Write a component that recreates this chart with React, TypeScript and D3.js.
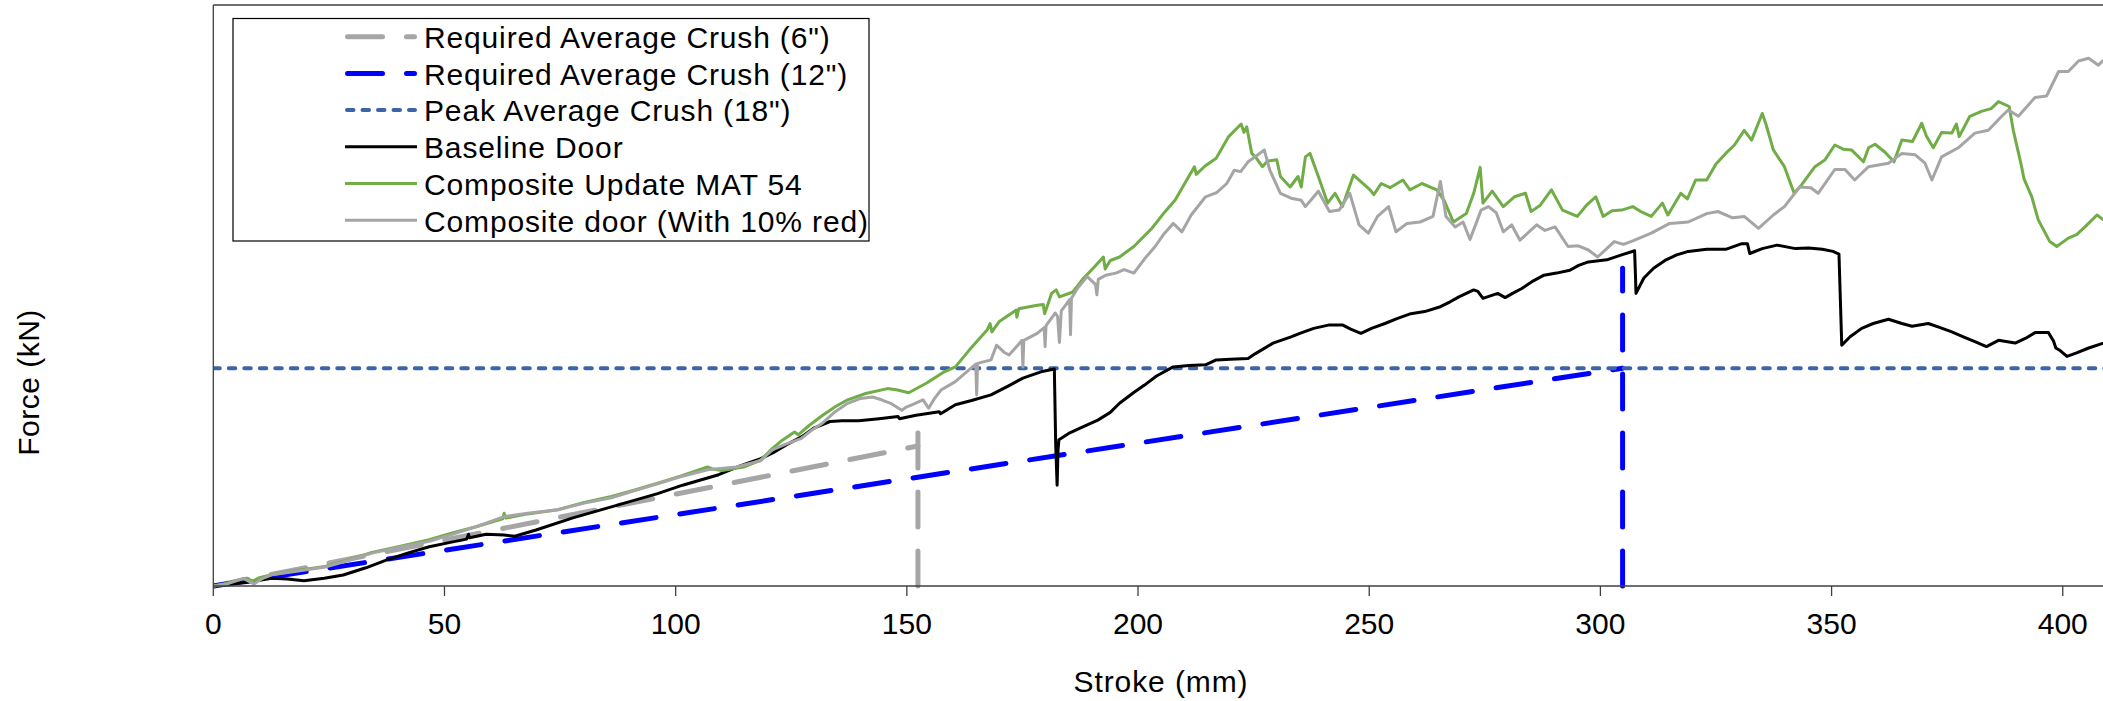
import React from "react";
import { scaleLinear, line } from "d3";

type Pt = [number, number]; // [stroke mm, force kN]

// ---- data ----
const xTicks = [0, 50, 100, 150, 200, 250, 300, 350, 400];

const crush6Slope: Pt[] = [[0, 0], [152.4, 20.0]];
const crush6Drop: Pt[] = [[152.4, 0], [152.4, 22.0]];
const crush12Slope: Pt[] = [[0, 0], [304.8, 31.1]];
const crush12Drop: Pt[] = [[304.8, 0], [304.8, 45.4]];
const peakCrush: Pt[] = [[0, 31.1], [410, 31.1]];

const baselineDoor: Pt[] = [
  [0, 0], [7.2, 0.5], [12.6, 1.1], [16, 1.0], [19.6, 0.76], [24, 1.1], [28.1, 1.57], [33, 2.6],
  [37.4, 3.7], [42, 4.7], [46.7, 5.6], [51, 6.2], [54.8, 6.7], [55.2, 7.4], [55.4, 6.9], [59, 7.4],
  [62.9, 7.3], [65.2, 7.1], [69.8, 8.0], [77.6, 9.7], [86.1, 11.3], [96.1, 13.2], [101.5, 14.4],
  [109.3, 15.9], [114.1, 17.2], [118.4, 18.2], [121.0, 19.0], [124, 20.2], [127.2, 21.3], [130, 22.6],
  [133.4, 23.5], [136, 23.6], [139.6, 23.6], [144, 23.9], [148.1, 24.2], [148.4, 23.9], [152, 24.4],
  [157.0, 24.9], [157.3, 24.6], [160.5, 25.9], [164, 26.5], [168.2, 27.3], [172, 28.6], [175.1, 29.7],
  [179.0, 30.6], [181.9, 31.0], [182.2, 20], [182.5, 14.4], [182.7, 19.5], [182.9, 20.9], [185, 21.8],
  [188.3, 22.8], [191.3, 23.7], [194, 24.8], [196.0, 26.1], [199, 27.6], [201.4, 28.7], [204, 30.0],
  [207.6, 31.3], [211, 31.5], [214.6, 31.6], [216.9, 32.3], [220, 32.4], [223.8, 32.5], [225.4, 33.2],
  [229.2, 34.7], [233.1, 35.6], [235.0, 36.1], [238, 36.8], [241.4, 37.3], [244.2, 37.3], [246, 36.7],
  [248.2, 36.1], [250.5, 36.8], [253.4, 37.5], [256, 38.2], [259.0, 38.9], [262, 39.2], [265.4, 39.9],
  [267.5, 40.6], [269.4, 41.3], [272.6, 42.3], [273.5, 42.1], [274.6, 41.1], [277.8, 41.8], [279.4, 41.2],
  [281, 41.8], [283.0, 42.5], [285.5, 43.6], [287.8, 44.4], [290.5, 44.7], [293.4, 45.1], [295.3, 45.8],
  [297.4, 46.3], [301.4, 46.6], [304.6, 47.3], [307.4, 47.9], [307.6, 44], [307.7, 41.8], [309.4, 44.0],
  [311.5, 45.4], [314.2, 46.6], [316.5, 47.3], [319.0, 47.8], [323, 48.1], [327.1, 48.1], [330.6, 48.9],
  [331.8, 48.9], [332.3, 47.5], [335.0, 48.2], [338.2, 48.7], [342.2, 48.2], [345, 48.3], [348, 48.1],
  [350.3, 47.8], [351.6, 47.4], [352.2, 34.4], [354, 35.6], [356.5, 36.8], [359, 37.5], [362.3, 38.1],
  [365.2, 37.5], [367.4, 37.1], [370.9, 37.5], [373.5, 36.9], [376.0, 36.3], [378.5, 35.6], [381.0, 34.9],
  [383.5, 34.2], [386.1, 35.1], [389.7, 34.7], [392, 35.4], [394.0, 36.2], [396.9, 36.2], [398.0, 35.0],
  [398.5, 34.0], [399.5, 33.6], [400.9, 32.8], [403, 33.3], [405.6, 34.0], [408.8, 34.7], [410, 35.0],
];

const compositeMat54: Pt[] = [
  [0, 0], [3, 0.4], [5, 0.8], [7.2, 1.1], [8.5, 0.7], [10, 1.2], [12.6, 1.6], [18, 2.2], [24.2, 2.8],
  [29, 3.7], [34.3, 4.8], [40, 5.6], [46.7, 6.6], [51.3, 7.5], [57, 8.5], [62.6, 9.6], [62.9, 10.4],
  [63.3, 9.7], [68, 10.3], [74.5, 10.9], [80, 11.9], [86.1, 12.8], [91, 13.7], [96.1, 14.7], [101, 15.7],
  [106.9, 17.0], [108, 16.7], [110, 16.5], [114.7, 17.0], [118.4, 18.0], [121.0, 19.7], [123, 20.8],
  [125.7, 22.0], [126.5, 21.6], [129, 23.0], [131.8, 24.4], [134.5, 25.6], [137.2, 26.6], [141.1, 27.5],
  [145.8, 28.2], [148, 28.0], [150.4, 27.6], [154.3, 29.0], [158.1, 30.6], [160.5, 31.3], [163.5, 33.7],
  [167.4, 36.6], [168.0, 37.5], [168.4, 36.3], [170, 37.8], [173.6, 39.4], [173.8, 38.4], [174.2, 39.6],
  [178.2, 40.1], [179.5, 40.2], [179.8, 38.9], [181.3, 41.8], [182.3, 42.3], [183, 41.3], [185.9, 42.0],
  [188, 43.8], [190.6, 45.6], [192.5, 47.0], [192.9, 45.3], [194, 46.5], [196.0, 47.0], [199.1, 48.5],
  [203.0, 51.1], [205.5, 53.2], [208.0, 55.1], [210, 57.4], [212.2, 59.9], [212.6, 58.8], [214.5, 60.0],
  [216.9, 61.1], [219.6, 64.2], [222.3, 66.0], [222.9, 64.8], [223.5, 65.6], [224.6, 61.8], [225.5, 61.2],
  [226.9, 59.9], [228, 60.7], [230.0, 60.9], [230.8, 58.5], [232.9, 57.0], [234.6, 58.5], [235.3, 57.0],
  [236.2, 61.3], [237.2, 61.8], [239.0, 58.5], [241.0, 54.7], [242.6, 56.1], [244.2, 54.2], [246.6, 58.7],
  [248.5, 57.6], [250.2, 56.6], [251, 55.9], [252.6, 57.5], [254.5, 56.9], [257.3, 58.0], [258.8, 56.6],
  [261.4, 57.5], [264.6, 56.6], [266.2, 55.1], [268.2, 52.0], [271.0, 53.2], [272.6, 56.1], [274.0, 59.8],
  [274.6, 54.7], [276.6, 56.4], [279.0, 54.2], [281.4, 55.6], [283.8, 56.1], [285.0, 53.5], [287, 54.4],
  [289.4, 56.6], [291.8, 53.7], [295.0, 52.8], [297, 54.4], [299.0, 55.6], [300.6, 52.8], [302.5, 53.6],
  [304.6, 53.7], [307.0, 54.2], [309, 53.4], [311.0, 52.8], [313.4, 54.7], [314.6, 53.0], [317.4, 56.1],
  [318.8, 55.3], [320.6, 58.0], [323.0, 58.0], [325, 60.3], [327.1, 61.8], [329, 63.0], [331.1, 65.1],
  [332.7, 63.7], [335.0, 67.5], [335.8, 66.0], [337.4, 62.3], [339.8, 59.9], [341.9, 56.1], [343.5, 57.3],
  [346.4, 59.9], [348.6, 60.9], [350.7, 63.0], [352.5, 62.4], [354.3, 62.3], [356.9, 60.6], [358.0, 62.6],
  [359.4, 63.1], [361.5, 62.0], [363.5, 60.6], [365.2, 63.7], [367.5, 63.5], [369.5, 66.1], [370.5, 64.3],
  [372.0, 62.6], [373.8, 64.8], [376, 64.7], [377.0, 66.0], [377.6, 64.2], [379.9, 67.1], [382.4, 67.8],
  [384.5, 68.2], [386.1, 69.2], [388.4, 68.5], [389.3, 65.1], [391.1, 59.9], [391.6, 58.2], [393.3, 55.6],
  [394.7, 52.3], [397.2, 49.2], [398.7, 48.5], [401.2, 49.7], [403, 50.2], [404.8, 51.3], [407.4, 53.0],
  [408.8, 52.3], [410, 52.6],
];

const compositeDoor: Pt[] = [
  [0, 0], [3, 0.3], [6.5, 1.1], [8.8, 0.3], [10.7, 1.1], [12.6, 1.6], [18, 2.1], [24.2, 2.7], [29, 3.6],
  [34.3, 4.7], [40, 5.5], [46.7, 6.4], [51.3, 7.3], [57, 8.5], [62.9, 9.9], [68, 10.4], [74.5, 10.9],
  [80, 11.8], [86.1, 12.6], [91, 13.6], [96.1, 14.6], [101, 15.6], [106.9, 16.6], [113.1, 17.0],
  [118.4, 17.9], [121.0, 19.5], [124, 20.3], [127.2, 21.1], [129.5, 22.3], [131.8, 23.3], [134.5, 24.9],
  [137.2, 26.1], [140, 26.8], [142.6, 27.0], [144.5, 26.6], [146.5, 26.1], [148.9, 25.1], [150, 25.6],
  [151.2, 25.9], [153.5, 26.6], [154.7, 25.4], [156, 26.8], [157.4, 28.0], [160.5, 29.2], [163.5, 30.9],
  [164.9, 31.7], [165.1, 27.3], [165.3, 31.8], [168.2, 32.3], [169.4, 34.4], [171, 33.4], [172.1, 33.0],
  [174, 34.4], [174.9, 35.1], [175.1, 31.3], [175.3, 35.1], [178.2, 36.1], [179.7, 36.9], [179.9, 34.2],
  [180.1, 37.2], [182.1, 39.0], [182.6, 38.5], [183, 34.8], [183.4, 39.3], [185.2, 40.9], [185.4, 35.9],
  [185.6, 41.1], [187, 42.6], [189.0, 44.2], [190.8, 43.1], [191.1, 41.6], [191.4, 43.8], [193, 44.4],
  [195.2, 44.7], [197, 45.2], [199.1, 44.7], [201.5, 46.8], [203.7, 48.5], [205.5, 50.2], [207.6, 51.8],
  [209.5, 50.6], [211.5, 53.0], [214.6, 55.6], [217, 56.2], [219.2, 57.5], [220.8, 59.4], [222.2, 59.2],
  [223.8, 60.6], [225.5, 61.4], [227.3, 62.3], [228.5, 59.4], [230.8, 56.1], [233.1, 55.4], [235.3, 55.1],
  [236.2, 54.2], [239.0, 56.4], [241.4, 53.5], [243.5, 53.7], [245.8, 56.1], [247.8, 51.6], [249.8, 50.4],
  [251.8, 52.8], [254.2, 54.2], [255.8, 50.6], [258.2, 51.8], [261, 52.0], [263.8, 52.8], [265.4, 57.8],
  [266.6, 52.8], [268.6, 51.3], [270.3, 52.0], [271.8, 49.5], [274.2, 53.7], [275.8, 54.2], [277.5, 53.3],
  [279.0, 50.6], [280.8, 51.6], [282.6, 49.4], [286.2, 51.6], [288, 50.8], [290.2, 51.3], [293.0, 48.5],
  [295.2, 48.6], [297.4, 48.0], [299.4, 47.0], [303.0, 49.2], [305, 48.8], [307.0, 49.3], [311.0, 50.4],
  [315.0, 51.8], [319.0, 52.0], [323.0, 53.2], [325.4, 53.5], [328.6, 52.6], [331.1, 52.8], [334.2, 51.1],
  [337.4, 53.0], [339.8, 54.2], [343.1, 57.0], [345.5, 56.9], [347.1, 56.1], [350.7, 59.5], [352.9, 59.5],
  [355.0, 58.0], [358.0, 59.9], [362.3, 60.4], [365.2, 61.8], [368.1, 61.6], [370.2, 60.4], [371.7, 58.0],
  [373.8, 61.3], [377.4, 62.6], [381.0, 64.7], [383.9, 65.1], [386.8, 67.1], [388.2, 68.0], [390.4, 67.1],
  [394.0, 69.8], [396.5, 70.0], [399.1, 73.5], [401.2, 73.5], [403.4, 75.0], [405.6, 75.4], [407.7, 74.4],
  [408.8, 75.1], [410, 75.3],
];

const legendLabels = [
  'Required Average Crush (6")',
  'Required Average Crush (12")',
  'Peak Average Crush (18")',
  "Baseline Door",
  "Composite Update MAT 54",
  "Composite door (With 10% red)",
];

// ---- styles ----
const longDash = { stroke: "#A6A6A6", width: 5, dash: "35 24", cap: "round" };
const blueDash = { stroke: "#0000FF", width: 5, dash: "35 24", cap: "round" };
const peakDash = { stroke: "#3C64A8", width: 4, dash: "6.5 9", cap: "round" };
const blackLine = { stroke: "#000000", width: 3, dash: undefined, cap: "butt" };
const greenLine = { stroke: "#70AD47", width: 3, dash: undefined, cap: "butt" };
const grayLine = { stroke: "#A5A5A5", width: 3, dash: undefined, cap: "butt" };
const legendStyles = [longDash, blueDash, peakDash, blackLine, greenLine, grayLine];

const W = 2103;
const H = 701;
const FONT = "'Liberation Sans', Arial, sans-serif";

const x = scaleLinear().domain([0, 410]).range([213.3, 2109]);
const y = scaleLinear().domain([0, 83]).range([586, 5]);
const path = line<Pt>().x((d) => x(d[0])).y((d) => y(d[1]));

function Series({ data, s }: { data: Pt[]; s: any }) {
  return (
    <path
      d={path(data) || ""}
      fill="none"
      stroke={s.stroke}
      strokeWidth={s.width}
      strokeDasharray={s.dash}
      strokeLinecap={s.cap}
      strokeLinejoin="round"
    />
  );
}

export default function App() {
  const [x0, x1] = x.range();
  const [yb, yt] = y.range();
  const legendY0 = 36.7;
  const legendStep = 36.7;

  return (
    <svg
      width={W}
      height={H}
      style={{ position: "absolute", left: 0, top: 0, background: "#fff" }}
      fontFamily={FONT}
    >
      <defs>
        <clipPath id="plot">
          <rect x={x0} y={yt} width={x1 - x0} height={yb - yt + 4} />
        </clipPath>
      </defs>

      <g clipPath="url(#plot)">
        <Series data={crush6Slope} s={longDash} />
        <Series data={crush6Drop} s={longDash} />
        <Series data={crush12Slope} s={blueDash} />
        <Series data={crush12Drop} s={blueDash} />
        <Series data={peakCrush} s={peakDash} />
        <Series data={baselineDoor} s={blackLine} />
        <Series data={compositeMat54} s={greenLine} />
        <Series data={compositeDoor} s={grayLine} />
      </g>

      {/* frame */}
      <line x1={x0} x2={W} y1={yt} y2={yt} stroke="#404040" strokeWidth={1.3} />
      <line x1={x0} x2={x0} y1={yt} y2={yb} stroke="#404040" strokeWidth={1.3} />
      <line x1={x0} x2={W} y1={yb} y2={yb} stroke="#404040" strokeWidth={1.5} />

      {xTicks.map((t) => (
        <g key={t} transform={`translate(${x(t)},0)`}>
          <line y1={yb} y2={yb + 10} stroke="#404040" strokeWidth={1.3} />
          <text y={633.5} textAnchor="middle" fontSize={30} fill="#000">
            {t}
          </text>
        </g>
      ))}

      <text x={1161} y={692} textAnchor="middle" fontSize={30} letterSpacing={0.9} fill="#000">
        Stroke (mm)
      </text>
      <text
        transform="translate(38.5,382.5) rotate(-90)"
        textAnchor="middle"
        fontSize={30}
        letterSpacing={0.5}
        fill="#000"
      >
        Force (kN)
      </text>

      {/* legend */}
      <rect x={233} y={18.5} width={636} height={222.5} fill="#fff" stroke="#000" strokeWidth={1.2} />
      {legendLabels.map((label, i) => {
        const ly = legendY0 + i * legendStep;
        const s = legendStyles[i];
        const pad = s.cap === "round" ? s.width / 2 : 0;
        return (
          <g key={label}>
            <line
              x1={345 + pad}
              x2={417 - pad}
              y1={ly}
              y2={ly}
              stroke={s.stroke}
              strokeWidth={s.width}
              strokeDasharray={s.dash}
              strokeLinecap={s.cap}
            />
            <text x={424} y={ly + 11.3} fontSize={30} letterSpacing={0.85} fill="#000">
              {label}
            </text>
          </g>
        );
      })}
    </svg>
  );
}
